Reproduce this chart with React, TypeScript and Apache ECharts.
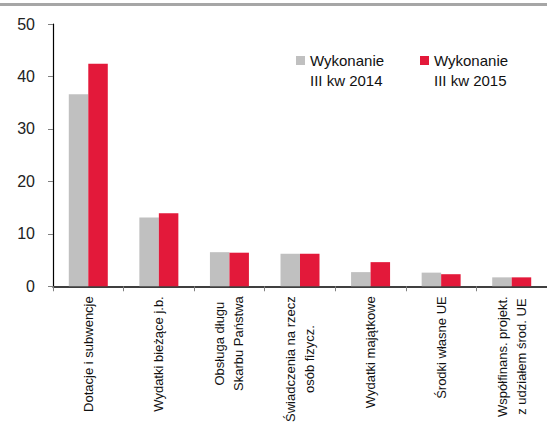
import React, { useEffect, useRef } from "react";
import * as echarts from "echarts";

const categories: string[] = [
  "Dotacje i subwencje",
  "Wydatki bieżące j.b.",
  "Obsługa długu\nSkarbu Państwa",
  "Świadczenia na rzecz\nosób fizycz.",
  "Wydatki majątkowe",
  "Środki własne UE",
  "Współfinans. projekt.\nz udziałem środ. UE",
];
const series2014: number[] = [36.6, 13.1, 6.5, 6.2, 2.7, 2.6, 1.7];
const series2015: number[] = [42.4, 13.9, 6.4, 6.2, 4.6, 2.3, 1.7];
const seriesNames: string[] = ["Wykonanie\nIII kw 2014", "Wykonanie\nIII kw 2015"];
const yTicks: number[] = [0, 10, 20, 30, 40, 50];

const GRAY = "#c0c0c0";
const RED = "#e3193a";

export default function App() {
  const ref = useRef<HTMLDivElement>(null);
  useEffect(() => {
    if (!ref.current) return;
    const chart = echarts.init(ref.current, undefined, { renderer: "svg" });
    const font = "Liberation Sans, Arial, sans-serif";
    chart.setOption({
      animation: false,
      backgroundColor: "#ffffff",
      textStyle: { fontFamily: font },
      grid: { left: 53, top: 24, width: 503, height: 269, containLabel: false },
      xAxis: {
        type: "category",
        data: categories,
        boundaryGap: true,
        axisLine: { show: true, lineStyle: { color: "#000", width: 1.5 } },
        axisTick: { show: true, length: 5, lineStyle: { color: "#808080", width: 1 } },
        axisLabel: {
          rotate: 90,
          interval: 0,
          margin: 10,
          color: "#111",
          fontSize: 13,
          fontFamily: font,
          lineHeight: 19,
          formatter: (v: string) =>
            v
              .split("\n")
              .map((s) => "{c|" + s + "}")
              .join("\n"),
          rich: {
            c: { align: "center", fontSize: 13, fontFamily: font, color: "#111", lineHeight: 19 },
          },
        },
      },
      yAxis: {
        type: "value",
        min: yTicks[0],
        max: yTicks[yTicks.length - 1],
        interval: 10,
        splitLine: { show: false },
        axisLine: { show: true, lineStyle: { color: "#000", width: 1.2 } },
        axisTick: { show: true, length: 5, lineStyle: { color: "#808080", width: 1 } },
        axisLabel: { color: "#222", fontSize: 16, fontFamily: font, margin: 18 },
      },
      series: [
        {
          name: seriesNames[0],
          type: "bar",
          data: series2014,
          barWidth: 19.5,
          barGap: "0%",
          itemStyle: { color: GRAY },
        },
        {
          name: seriesNames[1],
          type: "bar",
          data: series2015,
          barWidth: 19.5,
          barGap: "0%",
          itemStyle: { color: RED },
        },
      ],
      graphic: [
        {
          type: "rect",
          shape: { x: 0, y: 3, width: 547, height: 3 },
          style: { fill: "#a6a6a6" },
          silent: true,
        },
        {
          type: "rect",
          shape: { x: 296, y: 56, width: 9, height: 9 },
          style: { fill: GRAY },
        },
        {
          type: "text",
          x: 310,
          y: 50,
          style: {
            text: seriesNames[0],
            fontSize: 15,
            fontFamily: font,
            fill: "#111",
            lineHeight: 20,
            align: "left",
            verticalAlign: "top",
          },
        },
        {
          type: "rect",
          shape: { x: 420, y: 56, width: 9, height: 9 },
          style: { fill: RED },
        },
        {
          type: "text",
          x: 434,
          y: 50,
          style: {
            text: seriesNames[1],
            fontSize: 15,
            fontFamily: font,
            fill: "#111",
            lineHeight: 20,
            align: "left",
            verticalAlign: "top",
          },
        },
      ],
    });
    return () => chart.dispose();
  }, []);
  return (
    <div
      ref={ref}
      style={{ position: "fixed", left: 0, top: 0, width: 547, height: 425, background: "#fff" }}
    />
  );
}
